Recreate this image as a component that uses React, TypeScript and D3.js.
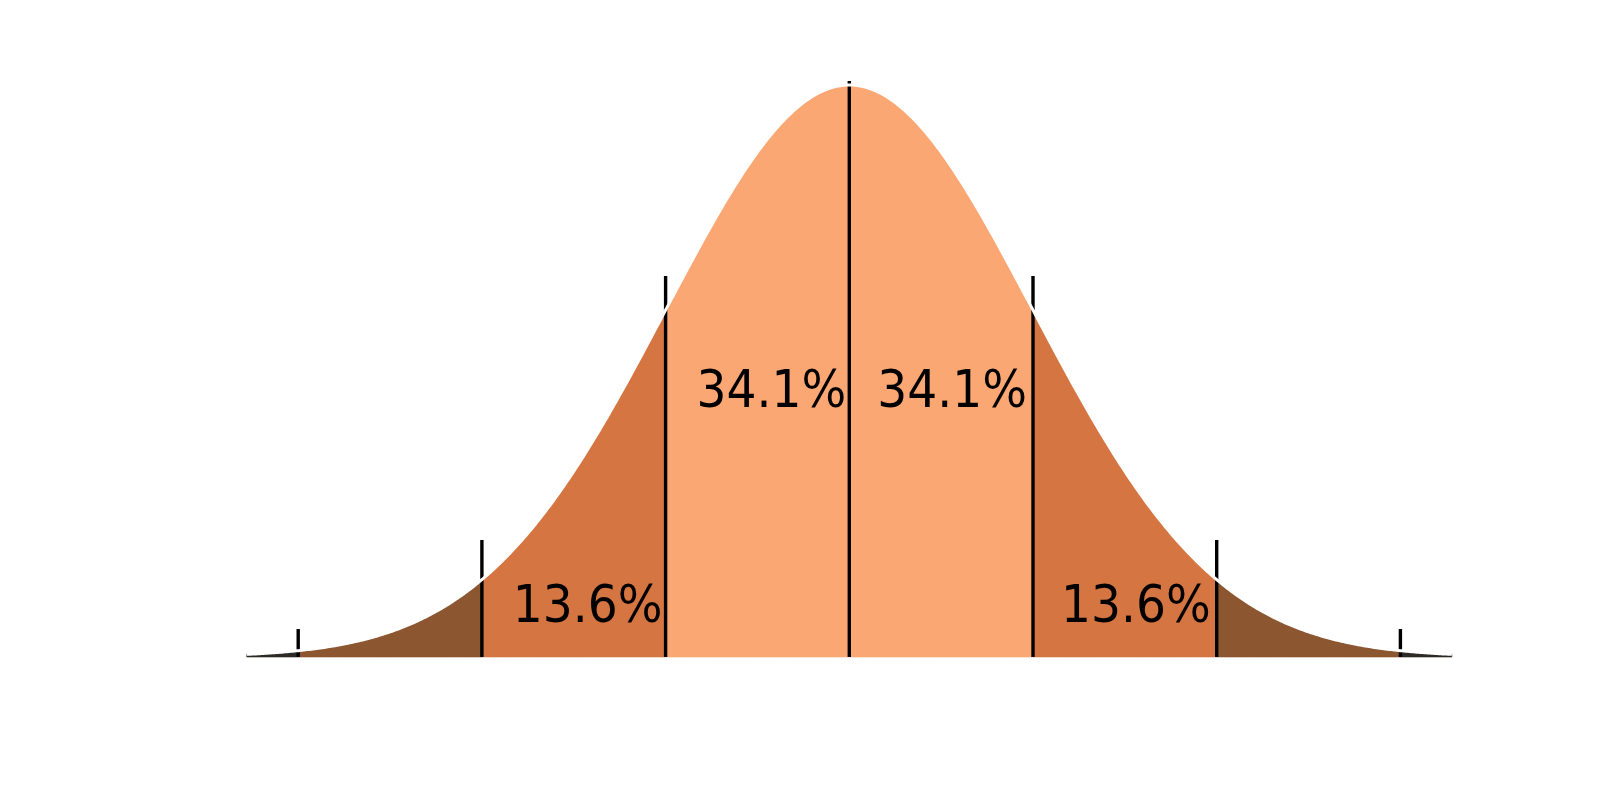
import React from "react";
import * as d3 from "d3";

// Standard-normal model: band boundaries in σ units
const bandEdges: number[] = [-3.28, -3, -2, -1, 0, 1, 2, 3, 3.28];
const bandColors: string[] = ["#2e2a26", "#8c5630", "#d57542", "#faa774", "#faa774", "#d57542", "#8c5630", "#2e2a26"];
// Vertical marker lines (σ units) and how high they reach (density units)
const markerZ: number[] = [-3, -2, -1, 0, 1, 2, 3];
const markerTop: number[] = [0.0195, 0.0816, 0.2657, 0.4017, 0.2657, 0.0816, 0.0195];
// Percentage labels: region [from, to] in σ and label height (density units)
const labelText: string[] = ["13.6%", "34.1%", "34.1%", "13.6%"];
const labelFrom: number[] = [-2, -1, 0, 1];
const labelTo: number[] = [-1, 0, 1, 2];
const labelY: number[] = [0.0245, 0.1742, 0.1742, 0.0245];

const pdf = (z: number) => Math.exp(-0.5 * z * z) / Math.sqrt(2 * Math.PI);

export default function App() {
  const W = 1600, H = 800;
  const x = d3.scaleLinear().domain([-3, 3]).range([298.2, 1400.4]);
  const y = d3.scaleLinear().domain([0, pdf(0)]).range([657, 85]);

  const area = d3
    .area<number>()
    .x((z) => x(z))
    .y0(y(0))
    .y1((z) => y(pdf(z)));
  const line = d3
    .line<number>()
    .x((z) => x(z))
    .y((z) => y(pdf(z)));

  const sample = (a: number, b: number) => {
    const n = Math.max(2, Math.ceil((b - a) / 0.01));
    return d3.range(n + 1).map((i) => a + ((b - a) * i) / n);
  };

  const full = sample(bandEdges[0], bandEdges[bandEdges.length - 1]);

  return (
    <svg
      width={W}
      height={H}
      style={{ position: "fixed", left: 0, top: 0, background: "#fff" }}
      fontFamily="DejaVu Sans"
    >
      <rect x={0} y={0} width={W} height={H} fill="#fff" />
      {bandColors.map((c, i) => (
        <path key={"b" + i} d={area(sample(bandEdges[i], bandEdges[i + 1])) || ""} fill={c} stroke={c} strokeWidth={0.6} />
      ))}
      {markerZ.map((z, i) => (
        <line
          key={"m" + i}
          x1={x(z)}
          x2={x(z)}
          y1={y(0)}
          y2={y(markerTop[i])}
          stroke="#000"
          strokeWidth={3.4}
        />
      ))}
      <path d={line(full) || ""} fill="none" stroke="#fff" strokeWidth={3} />
      {labelText.map((t, i) => {
        const right = labelTo[i] > 0;
        const xe = x(labelTo[i]) - (right ? 6 : 3);
        return (
          <text
            key={"t" + i}
            transform={`translate(${xe},${y(labelY[i])}) scale(0.925,1)`}
            textAnchor="end"
            fontSize={51}
            fill="#000"
          >
            {t}
          </text>
        );
      })}
    </svg>
  );
}
